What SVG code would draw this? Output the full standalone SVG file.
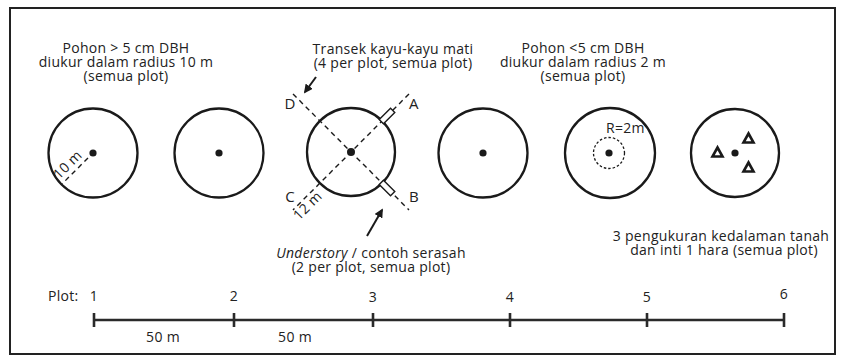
<svg xmlns="http://www.w3.org/2000/svg" width="846" height="356" viewBox="0 0 846 356">
<style>
text{font-family:"Open Sans","Noto Sans","Liberation Sans",sans-serif;font-size:14px;letter-spacing:0.3px;fill:#222}
.c{text-anchor:middle}
.plot{fill:none;stroke:#1a1a1a;stroke-width:2.3}
.dot{fill:#1a1a1a}
.dash{stroke:#1a1a1a;stroke-width:1.4;stroke-dasharray:5 4;fill:none}
.conn{stroke:#1a1a1a;stroke-width:2;fill:none}
.bar{stroke:#2a2a2a;stroke-width:2.6;fill:none}
.lab{font-size:15px}
.tri{fill:#fff;stroke:#1a1a1a;stroke-width:2.6}
</style>
<defs>
<marker id="ah" viewBox="0 0 10 10" refX="8" refY="5" markerWidth="4.5" markerHeight="4.5" orient="auto">
<path d="M0,0 L10,5 L0,10 z" fill="#1a1a1a"/>
</marker>
</defs>
<rect x="10" y="8" width="825" height="346" fill="#fff" stroke="#222" stroke-width="2"/>

<g id="label-pohon-besar">
<text class="c" x="126" y="53">Pohon &gt; 5 cm DBH</text>
<text class="c" x="126" y="67">diukur dalam radius 10 m</text>
<text class="c" x="126" y="81">(semua plot)</text>
</g>
<g id="label-transek">
<text class="c" x="393" y="54">Transek kayu-kayu mati</text>
<text class="c" x="393" y="68">(4 per plot, semua plot)</text>
</g>
<g id="label-pohon-kecil">
<text class="c" x="583" y="53">Pohon &lt;5 cm DBH</text>
<text class="c" x="583" y="67">diukur dalam radius 2 m</text>
<text class="c" x="583" y="81">(semua plot)</text>
</g>

<g id="plot1">
<circle class="plot" cx="93" cy="153" r="44.5"/>
<circle class="dot" cx="93" cy="153" r="3.6"/>
<line class="dash" x1="88" y1="158" x2="62" y2="184" stroke-width="2.2" stroke-dasharray="4 3"/>
<text x="0" y="0" font-size="12" class="c" transform="translate(71,168) rotate(-45)">10 m</text>
</g>
<g id="plot2">
<circle class="plot" cx="219" cy="153" r="44.5"/>
<circle class="dot" cx="219" cy="153" r="3.6"/>
</g>
<g id="plot3">
<line class="dash" x1="293" y1="94" x2="409" y2="210"/>
<line class="dash" x1="409" y1="94" x2="293" y2="210"/>
<circle class="plot" cx="351" cy="152" r="44"/>
<circle class="dot" cx="351" cy="152" r="4"/>
<rect x="-8" y="-3" width="16" height="6" fill="#fff" stroke="#1a1a1a" stroke-width="1.4" transform="translate(387,116) rotate(-45)"/>
<rect x="-8" y="-3" width="16" height="6" fill="#fff" stroke="#1a1a1a" stroke-width="1.4" transform="translate(387,188) rotate(45)"/>
<text class="lab c" x="290" y="109">D</text>
<text class="lab c" x="414" y="109">A</text>
<text class="lab c" x="290" y="202">C</text>
<text class="lab c" x="414" y="202">B</text>
<text class="c" font-size="12" transform="translate(311,209) rotate(-45)">12 m</text>
</g>
<g id="plot4">
<circle class="plot" cx="483" cy="153" r="44.5"/>
<circle class="dot" cx="483" cy="153" r="3.6"/>
</g>
<g id="plot5">
<circle class="plot" cx="610" cy="153" r="45"/>
<circle class="dot" cx="609" cy="153" r="3.6"/>
<circle cx="609" cy="153" r="15.5" fill="none" stroke="#1a1a1a" stroke-width="1.3" stroke-dasharray="2.5 2"/>
<text x="606" y="133" font-size="9.5" letter-spacing="0">R=2m</text>
</g>
<g id="plot6">
<circle class="plot" cx="735" cy="153" r="44"/>
<circle class="dot" cx="735" cy="153" r="3.6"/>
<polygon class="tri" points="717.5,147.5 722.5,156.5 712.5,156.5"/>
<polygon class="tri" points="748.5,133.5 753.5,142.5 743.5,142.5"/>
<polygon class="tri" points="748.5,162.5 753.5,171.5 743.5,171.5"/>
</g>

<g id="label-understory">
<text class="c" x="371" y="258"><tspan font-style="italic">Understory</tspan> / contoh serasah</text>
<text class="c" x="371" y="272">(2 per plot, semua plot)</text>
</g>
<g id="label-tanah">
<text class="c" x="721" y="241">3 pengukuran kedalaman tanah</text>
<text class="c" x="724" y="255">dan inti 1 hara (semua plot)</text>
</g>

<g id="connectors">
<line class="conn" x1="316" y1="77" x2="305" y2="92" marker-end="url(#ah)"/>
<line class="conn" x1="367" y1="236" x2="382" y2="210" marker-end="url(#ah)"/>
</g>

<g id="scale">
<text x="48" y="301">Plot:</text>
<line class="bar" x1="94" y1="320" x2="784" y2="320"/>
<line class="bar" x1="94" y1="313" x2="94" y2="327"/>
<line class="bar" x1="234" y1="313" x2="234" y2="327"/>
<line class="bar" x1="373" y1="313" x2="373" y2="327"/>
<line class="bar" x1="510" y1="313" x2="510" y2="327"/>
<line class="bar" x1="647" y1="313" x2="647" y2="327"/>
<line class="bar" x1="784" y1="313" x2="784" y2="327"/>
<text class="c" x="94" y="301">1</text>
<text class="c" x="234" y="301">2</text>
<text class="c" x="373" y="302">3</text>
<text class="c" x="510" y="302">4</text>
<text class="c" x="647" y="302">5</text>
<text class="c" x="784" y="299">6</text>
<text class="c" x="163" y="342">50 m</text>
<text class="c" x="295" y="342">50 m</text>
</g>
</svg>
